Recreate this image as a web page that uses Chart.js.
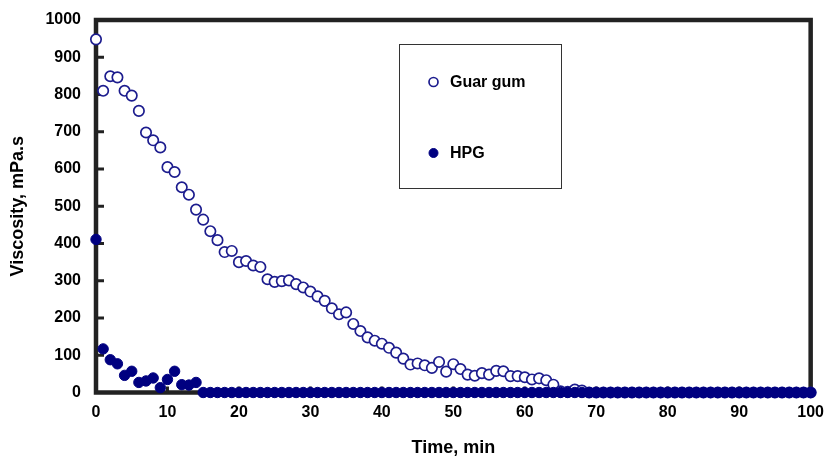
<!DOCTYPE html>
<html>
<head>
<meta charset="utf-8">
<title>Viscosity vs time</title>
<script src="https://cdn.jsdelivr.net/npm/chart.js@4/dist/chart.umd.min.js"></script>
<style>
  html, body { margin: 0; padding: 0; background: #fff; }
  canvas { display: block; }
</style>
</head>
<body>
<canvas id="viscChart" width="826" height="459"></canvas>
<script>
// время, мин
const timeMin = [
  0, 1, 2, 3, 4, 5, 6, 7, 8, 9, 10, 11, 12, 13, 14, 15, 16, 17, 18, 19,
  20, 21, 22, 23, 24, 25, 26, 27, 28, 29, 30, 31, 32, 33, 34, 35, 36, 37, 38, 39,
  40, 41, 42, 43, 44, 45, 46, 47, 48, 49, 50, 51, 52, 53, 54, 55, 56, 57, 58, 59,
  60, 61, 62, 63, 64, 65, 66, 67, 68, 69, 70, 71, 72, 73, 74, 75, 76, 77, 78, 79,
  80, 81, 82, 83, 84, 85, 86, 87, 88, 89, 90, 91, 92, 93, 94, 95, 96, 97, 98, 99,
  100
];

// вязкость, mPa.s
const guarGum = [
  948, 810, 849, 846, 810, 797, 756, 698, 677, 658, 605, 592, 551, 531, 491, 464, 433, 409, 377, 380,
  350, 353, 341, 337, 304, 297, 299, 301, 291, 282, 271, 258, 246, 226, 210, 215, 184, 165, 148, 139,
  131, 120, 107, 91, 75, 78, 73, 66, 82, 56, 76, 63, 48, 45, 52, 48, 58, 57, 44, 44,
  41, 35, 38, 33, 21, 3, 2, 8, 5, 0, 0, 0, 0, 0, 0, 0, 0, 0, 0, 0,
  0, 0, 0, 0, 0, 0, 0, 0, 0, 0, 0, 0, 0, 0, 0, 0, 0, 0, 0, 0,
  0
];

const hpg = [
  411, 117, 88, 77, 46, 57, 27, 31, 39, 13, 35, 57, 21, 20, 27, 0, 0, 0, 0, 0,
  0, 0, 0, 0, 0, 0, 0, 0, 0, 0, 0, 0, 0, 0, 0, 0, 0, 0, 0, 0,
  0, 0, 0, 0, 0, 0, 0, 0, 0, 0, 0, 0, 0, 0, 0, 0, 0, 0, 0, 0,
  0, 0, 0, 0, 0, 0, 0, 0, 0, 0, 0, 0, 0, 0, 0, 0, 0, 0, 0, 0,
  0, 0, 0, 0, 0, 0, 0, 0, 0, 0, 0, 0, 0, 0, 0, 0, 0, 0, 0, 0,
  0
];

const xTicks = [0, 10, 20, 30, 40, 50, 60, 70, 80, 90, 100];
const yTicks = [0, 100, 200, 300, 400, 500, 600, 700, 800, 900, 1000];

const FONT = "'Liberation Sans', Arial, sans-serif";
const FRAME = '#222';

function toPoints(xs, ys) {
  return xs.map((x, i) => ({ x: x, y: ys[i] }));
}

// рамка графика и внутренние риски осей
const framePlugin = {
  id: 'frame',
  beforeDatasetsDraw(chart) {
    const { ctx, chartArea: a, scales } = chart;
    ctx.save();
    ctx.strokeStyle = FRAME;
    ctx.lineWidth = 4.5;
    ctx.strokeRect(a.left, a.top, a.right - a.left, a.bottom - a.top);
    ctx.lineWidth = 3;
    ctx.beginPath();
    yTicks.forEach(v => {
      const y = scales.y.getPixelForValue(v);
      ctx.moveTo(a.left, y);
      ctx.lineTo(a.left + 8, y);
    });
    xTicks.forEach(v => {
      const x = scales.x.getPixelForValue(v);
      ctx.moveTo(x, a.bottom);
      ctx.lineTo(x, a.bottom - 6);
    });
    ctx.stroke();
    ctx.restore();
  }
};

// легенда в рамке внутри графика
const boxLegend = {
  id: 'boxLegend',
  afterDraw(chart) {
    const ctx = chart.ctx;
    const box = { left: 399.5, top: 44.5, right: 561.5, bottom: 188.5 };
    ctx.save();
    ctx.strokeStyle = '#333';
    ctx.lineWidth = 1;
    ctx.strokeRect(box.left, box.top, box.right - box.left, box.bottom - box.top);
    const rows = [82, 153];
    chart.data.datasets.forEach((ds, i) => {
      const y = rows[i];
      ctx.beginPath();
      ctx.arc(433.5, y, 4.5, 0, Math.PI * 2);
      ctx.fillStyle = ds.backgroundColor;
      ctx.fill();
      ctx.lineWidth = ds.borderWidth;
      ctx.strokeStyle = ds.borderColor;
      ctx.stroke();
      ctx.fillStyle = '#000';
      ctx.font = 'bold 16px ' + FONT;
      ctx.textBaseline = 'middle';
      ctx.textAlign = 'left';
      ctx.fillText(ds.label, 450, y + 1);
    });
    ctx.restore();
  }
};

const ctx = document.getElementById('viscChart').getContext('2d');
new Chart(ctx, {
  type: 'scatter',
  data: {
    datasets: [{
      label: 'Guar gum',
      data: toPoints(timeMin, guarGum),
      backgroundColor: '#ffffff',
      borderColor: '#1c1c8e',
      borderWidth: 1.7,
      pointRadius: 5.2,
      order: 1
    }, {
      label: 'HPG',
      data: toPoints(timeMin, hpg),
      backgroundColor: '#000080',
      borderColor: '#000080',
      borderWidth: 1,
      pointRadius: 5.2,
      order: 0
    }]
  },
  options: {
    responsive: false,
    animation: false,
    devicePixelRatio: 1,
    clip: false,
    layout: { padding: { left: 0, top: 20, right: 8, bottom: 0 } },
    plugins: {
      legend: { display: false },
      tooltip: { enabled: false }
    },
    scales: {
      x: {
        type: 'linear',
        min: 0,
        max: 100,
        afterFit: s => { s.height = 66.5; },
        afterBuildTicks: s => { s.ticks = xTicks.map(v => ({ value: v })); },
        grid: { display: false },
        border: { display: false },
        ticks: {
          padding: 2,
          color: '#000',
          callback: v => String(v),
          font: { family: FONT, size: 16, weight: 'bold' }
        },
        title: {
          display: true,
          text: 'Time, min',
          color: '#000',
          padding: { top: 0, bottom: 0 },
          font: { family: FONT, size: 18, weight: 'bold' }
        }
      },
      y: {
        min: 0,
        max: 1000,
        afterFit: s => { s.width = 96; },
        afterBuildTicks: s => { s.ticks = yTicks.map(v => ({ value: v })); },
        grid: { display: false },
        border: { display: false },
        ticks: {
          padding: 7,
          color: '#000',
          callback: v => String(v),
          font: { family: FONT, size: 16, weight: 'bold' }
        },
        title: {
          display: true,
          text: 'Viscosity, mPa.s',
          color: '#000',
          padding: { top: 7, bottom: 0 },
          font: { family: FONT, size: 18, weight: 'bold' }
        }
      }
    }
  },
  plugins: [framePlugin, boxLegend]
});
</script>
</body>
</html>
